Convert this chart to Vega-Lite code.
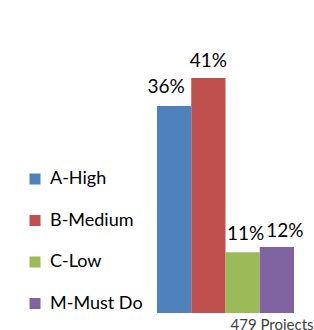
{
  "$schema": "https://vega.github.io/schema/vega-lite/v6.json",
  "autosize": {"type": "none"},
  "padding": {"left": 157, "top": 0, "right": 20, "bottom": 17},
  "width": 137,
  "height": 313,
  "config": {"view": {"stroke": null}, "font": "Lato"},
  "data": {"values": [
    {"priority": "A-High", "share": 0.361},
    {"priority": "B-Medium", "share": 0.41},
    {"priority": "C-Low", "share": 0.106},
    {"priority": "M-Must Do", "share": 0.115}
  ]},
  "encoding": {
    "x": {"field": "priority", "type": "nominal", "scale": {"paddingInner": 0, "paddingOuter": 0},
      "axis": {"title": "479 Projects", "labels": false, "ticks": false, "domain": false, "titleFont": "Lato", "titleFontSize": 15, "titleFontWeight": "normal", "titleColor": "#404040", "titleAlign": "left", "titleAnchor": "start", "titleX": 73, "titleY": 16.5, "titleBaseline": "alphabetic"}},
    "y": {"field": "share", "type": "quantitative", "scale": {"domain": [0, 0.546], "nice": false}, "axis": null}
  },
  "layer": [
    {"mark": {"type": "bar"},
     "encoding": {"color": {"field": "priority", "type": "nominal",
       "scale": {"domain": ["A-High", "B-Medium", "C-Low", "M-Must Do"], "range": ["#4F81BD", "#C0504D", "#9BBB59", "#8064A2"]},
       "legend": {"title": null, "orient": "none", "legendX": -131, "legendY": 170, "padding": 0, "symbolType": "square", "symbolSize": 121, "symbolOffset": 0, "symbolStrokeWidth": 0, "labelOffset": 6, "labelFont": "Lato", "labelFontSize": 18, "labelColor": "#000000", "labelLimit": 200, "rowPadding": 23.5}}}},
    {"transform": [{"filter": "datum.priority == 'A-High'"}], "mark": {"type": "text", "dy": -13, "dx": -8, "baseline": "alphabetic", "fontSize": 19, "color": "#000000"}, "encoding": {"text": {"field": "share", "format": ".0%"}}},
    {"transform": [{"filter": "datum.priority == 'B-Medium'"}], "mark": {"type": "text", "dy": -11, "dx": 0, "baseline": "alphabetic", "fontSize": 19, "color": "#000000"}, "encoding": {"text": {"field": "share", "format": ".0%"}}},
    {"transform": [{"filter": "datum.priority == 'C-Low'"}], "mark": {"type": "text", "dy": -12, "dx": 3, "baseline": "alphabetic", "fontSize": 19, "color": "#000000"}, "encoding": {"text": {"field": "share", "format": ".0%"}}},
    {"transform": [{"filter": "datum.priority == 'M-Must Do'"}], "mark": {"type": "text", "dy": -10, "dx": 8, "baseline": "alphabetic", "fontSize": 19, "color": "#000000"}, "encoding": {"text": {"field": "share", "format": ".0%"}}}
  ]
}
